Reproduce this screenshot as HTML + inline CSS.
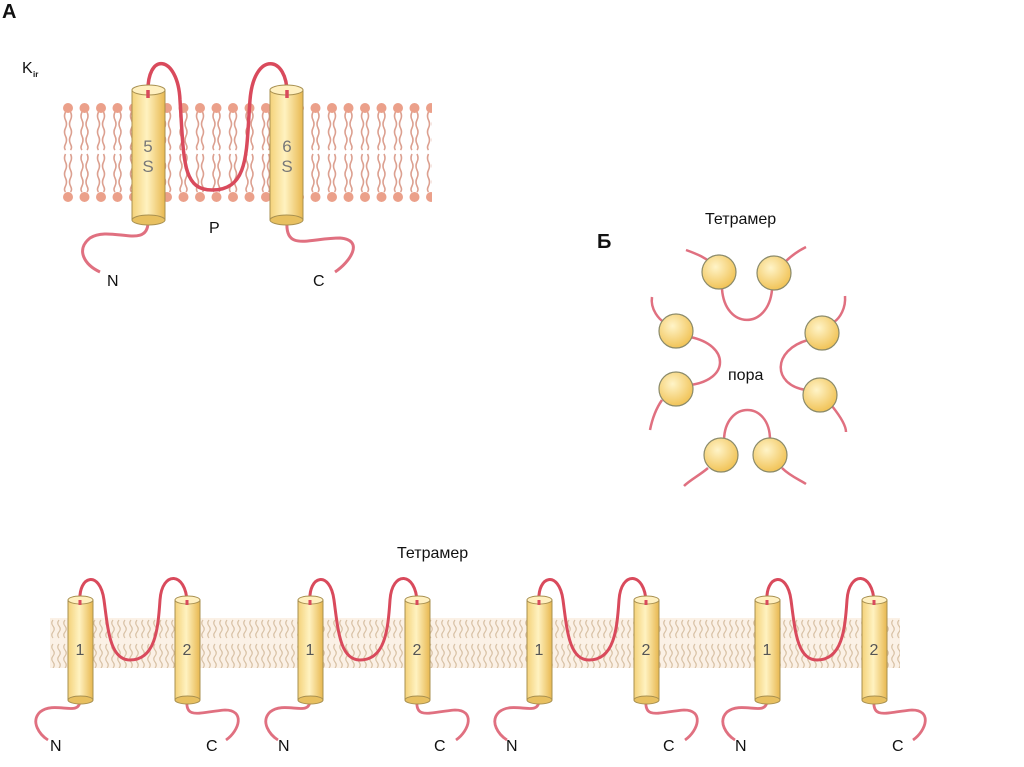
<!DOCTYPE html>
<html><head><meta charset="utf-8"><style>
html,body{margin:0;padding:0;background:#fff;}
svg{display:block;}
text{font-family:"Liberation Sans",sans-serif;fill:#111;}
</style></head><body>
<svg width="1024" height="767" viewBox="0 0 1024 767" xmlns="http://www.w3.org/2000/svg">
<defs>
  <linearGradient id="cyl" x1="0" x2="1" y1="0" y2="0">
    <stop offset="0" stop-color="#f4d27a"/><stop offset="0.45" stop-color="#fff2c0"/><stop offset="1" stop-color="#e8b850"/>
  </linearGradient>
  <radialGradient id="ball" cx="0.4" cy="0.35" r="0.7">
    <stop offset="0" stop-color="#fff4c8"/><stop offset="1" stop-color="#f0c050"/>
  </radialGradient>
  <pattern id="lip" x="60" y="100" width="16.5" height="104" patternUnits="userSpaceOnUse">
    <path d="M5.5 12 q-2 4 0 8 t0 8 t0 8 t0 8 t0 6 M10.5 12 q2 4 0 8 t0 8 t0 8 t0 8 t0 6" stroke="#dca090" stroke-width="1.6" fill="none"/>
    <path d="M5.5 54 q-2 4 0 8 t0 8 t0 8 t0 8 t0 6 M10.5 54 q2 4 0 8 t0 8 t0 8 t0 8 t0 6" stroke="#dca090" stroke-width="1.6" fill="none"/>
    <circle cx="8" cy="8" r="5" fill="#eba08a"/>
    <circle cx="8" cy="97" r="5" fill="#eba08a"/>
  </pattern>
  <pattern id="lip2" x="50" y="618" width="6" height="50" patternUnits="userSpaceOnUse">
    <path d="M3 2 q-2.5 3 0 6 t0 6 t0 6 M3 26 q-2.5 3 0 6 t0 6 t0 6 t0 6" stroke="#c9b59a" stroke-width="1.2" fill="none"/>
  </pattern>
  <g id="unit">
    <path d="M80 602 C78 575 100 570 104 600 C108 630 110 660 130 660 C155 660 158 630 160 600 C162 570 186 572 187 602" stroke="#d94a5c" stroke-width="3" fill="none"/>
    <path d="M80 700 C80 718 55 700 40 712 C30 722 40 735 48 740" stroke="#e07080" stroke-width="2.8" fill="none"/>
    <path d="M187 700 C185 720 200 712 225 710 C245 710 240 730 226 740" stroke="#e07080" stroke-width="2.8" fill="none"/>
    <rect x="68" y="600" width="25" height="100" fill="url(#cyl)" stroke="#a89050" stroke-width="1"/>
    <ellipse cx="80.5" cy="700" rx="12.5" ry="4" fill="#e8c060" stroke="#a89050"/>
    <ellipse cx="80.5" cy="600" rx="12.5" ry="4" fill="#fff0c0" stroke="#a89050"/>
    <rect x="175" y="600" width="25" height="100" fill="url(#cyl)" stroke="#a89050" stroke-width="1"/>
    <ellipse cx="187.5" cy="700" rx="12.5" ry="4" fill="#e8c060" stroke="#a89050"/>
    <ellipse cx="187.5" cy="600" rx="12.5" ry="4" fill="#fff0c0" stroke="#a89050"/>
    <path d="M80 600 l0 5 M187 600 l0 5" stroke="#d94a5c" stroke-width="3"/>
  </g>
</defs>
<rect width="1024" height="767" fill="#fff"/>
<text x="2" y="18" font-size="20" font-weight="bold">А</text>
<text x="22" y="73" font-size="16">K</text><text x="33" y="77" font-size="8" font-weight="bold">ir</text>

<rect x="60" y="100" width="372" height="104" fill="url(#lip)"/>
<path d="M148 95 C146 50 178 55 180 100 C184 160 182 190 212 190 C250 190 246 150 250 100 C254 50 288 55 287 95" stroke="#d94a5c" stroke-width="3.5" fill="none"/>
<path d="M148 222 C148 250 110 225 90 238 C75 250 85 265 100 272" stroke="#e07080" stroke-width="3" fill="none"/>
<path d="M287 222 C285 252 310 238 340 238 C365 240 350 262 335 272" stroke="#e07080" stroke-width="3" fill="none"/>
<rect x="132" y="90" width="33" height="130" fill="url(#cyl)" stroke="#a89050"/>
<ellipse cx="148.5" cy="220" rx="16.5" ry="5" fill="#e8c060" stroke="#a89050"/>
<ellipse cx="148.5" cy="90" rx="16.5" ry="5" fill="#fff0c0" stroke="#a89050"/>
<rect x="270" y="90" width="33" height="130" fill="url(#cyl)" stroke="#a89050"/>
<ellipse cx="286.5" cy="220" rx="16.5" ry="5" fill="#e8c060" stroke="#a89050"/>
<ellipse cx="286.5" cy="90" rx="16.5" ry="5" fill="#fff0c0" stroke="#a89050"/>
<path d="M148 90 v8 M287 90 v8" stroke="#d94a5c" stroke-width="3.5"/>
<text x="148" y="152" font-size="17" text-anchor="middle" style="fill:#777">5</text>
<text x="148" y="172" font-size="17" text-anchor="middle" style="fill:#777">S</text>
<text x="287" y="152" font-size="17" text-anchor="middle" style="fill:#777">6</text>
<text x="287" y="172" font-size="17" text-anchor="middle" style="fill:#777">S</text>
<text x="209" y="233" font-size="16">P</text>
<text x="107" y="286" font-size="16">N</text>
<text x="313" y="286" font-size="16">C</text>

<text x="597" y="248" font-size="20" font-weight="bold">Б</text>
<text x="705" y="224" font-size="16">Тетрамер</text>
<g stroke="#e07080" stroke-width="2.5" fill="none">
  <path d="M686 250 C700 255 705 258 710 262"/><path d="M785 262 C792 255 800 250 806 247"/>
  <path d="M722 289 C725 330 768 330 772 290"/>
  <path d="M652 297 C650 310 660 320 664 322"/><path d="M690 337 C730 345 730 380 690 385"/>
  <path d="M662 400 C655 410 652 420 650 430"/>
  <path d="M845 296 C846 308 840 318 834 322"/><path d="M808 340 C772 350 772 385 806 390"/>
  <path d="M832 406 C840 416 846 426 846 432"/>
  <path d="M724 440 C725 400 770 400 770 440"/>
  <path d="M708 468 C700 475 690 480 684 486"/><path d="M782 468 C790 476 800 480 806 484"/>
</g>
<g fill="url(#ball)" stroke="#8a8a6a" stroke-width="1.2">
  <circle cx="719" cy="272" r="17"/><circle cx="774" cy="273" r="17"/>
  <circle cx="676" cy="331" r="17"/><circle cx="676" cy="389" r="17"/>
  <circle cx="822" cy="333" r="17"/><circle cx="820" cy="395" r="17"/>
  <circle cx="721" cy="455" r="17"/><circle cx="770" cy="455" r="17"/>
</g>
<text x="728" y="380" font-size="16">пора</text>

<text x="397" y="558" font-size="16">Тетрамер</text>
<rect x="50" y="618" width="850" height="50" fill="url(#lip2)"/>
<rect x="50" y="618" width="850" height="50" fill="#f3d8b8" opacity="0.35"/>
<use href="#unit"/>
<use href="#unit" x="230"/>
<use href="#unit" x="459"/>
<use href="#unit" x="687"/>
<g font-size="16" text-anchor="middle">
  <text x="80" y="655" style="fill:#555">1</text><text x="187" y="655" style="fill:#555">2</text>
  <text x="310" y="655" style="fill:#555">1</text><text x="417" y="655" style="fill:#555">2</text>
  <text x="539" y="655" style="fill:#555">1</text><text x="646" y="655" style="fill:#555">2</text>
  <text x="767" y="655" style="fill:#555">1</text><text x="874" y="655" style="fill:#555">2</text>
</g>
<g font-size="16">
  <text x="50" y="751">N</text><text x="206" y="751">C</text>
  <text x="278" y="751">N</text><text x="434" y="751">C</text>
  <text x="506" y="751">N</text><text x="663" y="751">C</text>
  <text x="735" y="751">N</text><text x="892" y="751">C</text>
</g>
</svg>
</body></html>
